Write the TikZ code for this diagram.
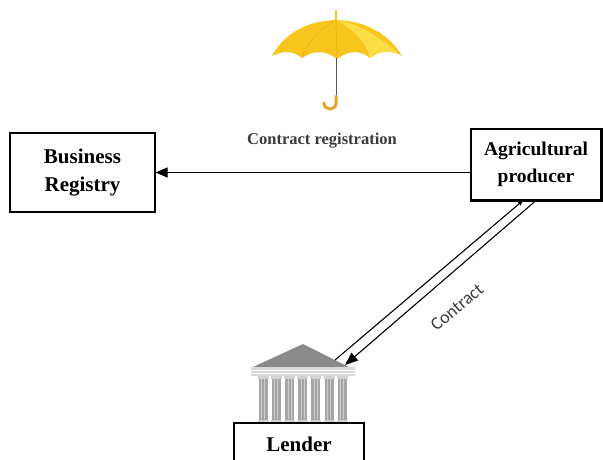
\documentclass[tikz,border=0pt]{standalone}
\usepackage{fontspec}
\setmainfont{Liberation Serif}
\newfontfamily\carlitofont{Carlito}
\usetikzlibrary{arrows.meta}
\definecolor{umbY}{HTML}{F7C51C}
\definecolor{umbL}{HTML}{FBDD45}
\definecolor{umbD}{HTML}{E8B010}
\definecolor{handleC}{HTML}{E3A428}
\definecolor{txtgray}{HTML}{3A3A3A}
\definecolor{roofC}{HTML}{8A8A8A}
\tikzset{
  boxnode/.style={draw=black, line width=1.1pt, align=center, font=\bfseries\fontsize{21}{28}\selectfont, inner sep=0pt},
  conn/.style={line width=1.1pt, draw=black},
  tipA/.style={-{Triangle[length=12pt,width=10pt]}},
}
\begin{document}
\begin{tikzpicture}[x=1pt,y=-1pt]
\useasboundingbox (0,0) rectangle (603,459);

% umbrella
\draw[umbY, line width=2.2pt] (336,10) -- (336,21);
\fill[umbY] (336,20) .. controls (300,21) and (280,40) .. (272,56)
  .. controls (284,50) and (294,51) .. (302,58)
  .. controls (314,50) and (326,50) .. (337,59)
  .. controls (349,50) and (361,50) .. (370,58)
  .. controls (380,50) and (392,50) .. (402,56)
  .. controls (393,40) and (372,21) .. (336,20) -- cycle;
\fill[umbL] (336,20) .. controls (362,24) and (380,38) .. (402,56)
  .. controls (392,50) and (380,50) .. (370,58)
  .. controls (366,42) and (352,28) .. (336,20) -- cycle;
\draw[umbD, line width=0.5pt] (336,20) .. controls (318,30) and (306,44) .. (302,58);
\draw[umbD, line width=0.5pt] (336,20) -- (337,59);
\draw[gray!70!black, line width=1pt] (336,58) -- (336,98);
\draw[handleC, line width=3pt, line cap=round] (336,96) -- (336,103) .. controls (336,111) and (324,111) .. (324,103);

\node[font=\bfseries\fontsize{16.5}{18}\selectfont, text=txtgray] (lab) at (322,141) {Contract registration};

% boxes
\node[boxnode, minimum width=145pt, minimum height=79pt] (br) at (82.5,172.5) {Business\\Registry};
\node[boxnode, minimum width=130pt, minimum height=71pt, font=\bfseries\fontsize{19.5}{27}\selectfont] (agri) at (536,164.5) {Agricultural\\producer};
\draw[line width=2.4pt] (agri.south west) -- (agri.south east) -- (agri.north east);
\node[boxnode, minimum width=130pt, minimum height=42pt] (lender) at (299,444) {Lender};

% building icon
\fill[roofC] (303,344) -- (349,367) -- (253,367) -- cycle;
\fill[gray!30] (251,367) rectangle (355,376);
\draw[white, line width=0.6pt] (251,370) -- (355,370);
\draw[white, line width=0.6pt] (251,373) -- (355,373);
\foreach \i in {0,...,6} {
  \pgfmathsetmacro{\cx}{263+\i*13.2}
  \fill[gray!70] (\cx-4.5,378) rectangle (\cx+4.5,420);
  \draw[gray!40, line width=0.5pt] (\cx-1.5,379) -- (\cx-1.5,419);
  \draw[gray!40, line width=0.5pt] (\cx+1.5,379) -- (\cx+1.5,419);
  \fill[gray!35] (\cx-5.5,376) rectangle (\cx+5.5,378.5);
  \fill[gray!35] (\cx-5.5,419.5) rectangle (\cx+5.5,422);
}
\coordinate (roofA) at (335,360);
\coordinate (roofB) at (345,365);

% connectors
\draw[conn, tipA] (br.east -| agri.west) -- (br.east);
\coordinate (agA) at ([xshift=-13pt]agri.south);
\draw[conn, -{Triangle[length=5pt,width=4pt]}] (roofA) -- (agA);
\draw[conn, -{Triangle[length=13pt,width=10pt]}] (agri.south) -- (roofB);
\node[font=\carlitofont\fontsize{18}{20}\selectfont, text=txtgray, rotate=40] (clab) at (457,307) {Contract};
\end{tikzpicture}
\end{document}
